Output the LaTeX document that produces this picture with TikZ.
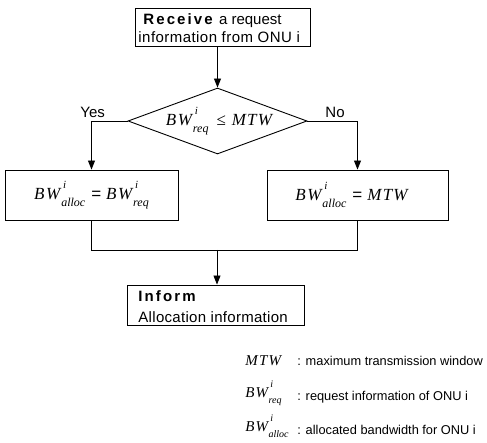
\documentclass[tikz,border=0pt]{standalone}
\usepackage{fontspec}
\setmainfont{Liberation Sans}
\newfontfamily\tms{Liberation Serif}
\usetikzlibrary{shapes.geometric,arrows.meta}
\newcommand\bwv[1]{{\tms\itshape B\kern1.5pt W\kern1pt\rlap{\raisebox{0.62em}{\fontsize{11}{11}\selectfont\,i}}\raisebox{-0.42em}{\fontsize{12}{12}\selectfont #1}}}
\newcommand\bwl[1]{{\tms\itshape B\kern1pt W\kern0.5pt\rlap{\raisebox{0.62em}{\fontsize{10}{10}\selectfont\,i}}\raisebox{-0.42em}{\fontsize{10}{10}\selectfont #1}}}
\newcommand\mtw{{\tms\itshape M\kern1.2pt T\kern1.2pt W}}
\newcommand\spcd[1]{{\addfontfeature{LetterSpace=14}#1}}
\begin{document}
\begin{tikzpicture}[x=1pt,y=-1pt,
  every path/.style={line width=0.9pt},
  boxn/.style={draw, rectangle, inner sep=0pt},
  txt/.style={inner sep=0pt, anchor=base west, font=\fontsize{15}{18}\selectfont},
  legt/.style={inner sep=0pt, anchor=base west, font=\fontsize{12.8}{16}\selectfont},
  legm/.style={inner sep=0pt, anchor=base west, font=\fontsize{15}{18}\selectfont},
  mth/.style={inner sep=0pt, font=\fontsize{17}{20}\selectfont},
  arr/.style={-{Triangle[length=9pt,width=7pt]}}]
\useasboundingbox (0,0) rectangle (487,443);
% boxes
\node[boxn, minimum width=175pt, minimum height=38pt] (top) at (222.5,27) {};
\node[draw, diamond, inner sep=0pt, minimum width=179pt, minimum height=66pt] (dia) at (217.5,121) {};
\node[mth] (diat) at (219,121) {\bwv{req}\hspace{8pt}{\tms ≤}\hspace{6pt}\mtw};
\node[boxn, minimum width=173pt, minimum height=50pt, mth] (lbox) at (91.5,195) {\bwv{alloc}\hspace{6pt}=\hspace{5pt}\bwv{req}};
\node[boxn, minimum width=181pt, minimum height=50pt, mth] (rbox) at (357.5,195) {\hspace*{-12pt}\bwv{alloc}\hspace{6pt}=\hspace{5pt}\mtw};
\node[boxn, minimum width=177pt, minimum height=40pt] (inf) at (215.5,305) {};
% box texts
\node[txt] (t1) at (143,25) {\textbf{\spcd{Receive}} a request};
\node[txt, font=\fontsize{15}{18}\selectfont\addfontfeature{LetterSpace=3}] (t2) at (138,43) {information from ONU i};
\node[txt] (i1) at (138,302) {\textbf{\spcd{Inform}}};
\node[txt, font=\fontsize{15}{18}\selectfont\addfontfeature{LetterSpace=2}] (i2) at (138,323) {Allocation information};
% labels
\node[txt] (yes) at (80,118) {Yes};
\node[txt] (no) at (325,118) {No};
% connectors
\draw[arr] (dia.north |- top.south) -- (dia.north);
\draw[arr] (dia.west) -| (lbox.north);
\draw[arr] (dia.east) -| (rbox.north);
\coordinate (jl) at (lbox.south |- 0,250);
\coordinate (jr) at (rbox.south |- 0,250);
\coordinate (jm) at (217,250);
\draw (lbox.south) -- (jl) -- (jr) -- (rbox.south);
\draw[arr] (jm) -- (jm |- inf.north);
% legend
\node[legm] (l1a) at (245,366) {\mtw};
\node[legt] (l1b) at (297,366) {: maximum transmission window};
\node[legm] (l2a) at (245,397) {\bwl{req}};
\node[legt] (l2b) at (297,400) {: request information of ONU i};
\node[legm] (l3a) at (245,431) {\bwl{alloc}};
\node[legt] (l3b) at (297,434) {: allocated bandwidth for ONU i};
\end{tikzpicture}
\end{document}
